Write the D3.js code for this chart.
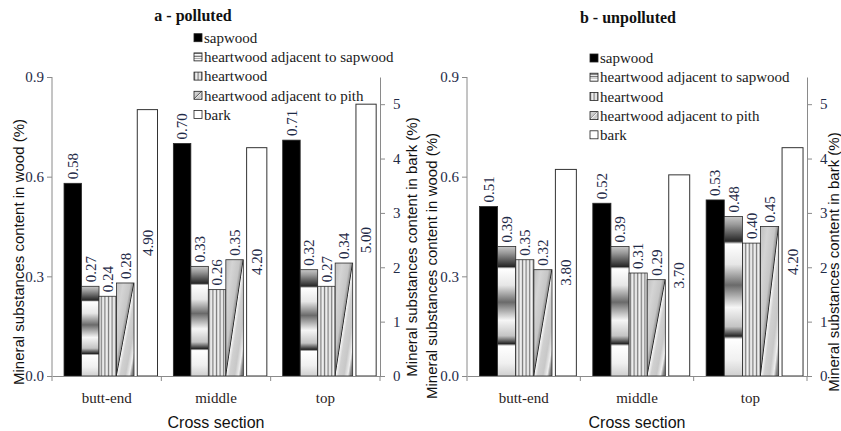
<!DOCTYPE html>
<html><head><meta charset="utf-8">
<script src="https://cdn.jsdelivr.net/npm/d3@7"></script>
<style>body{margin:0;background:#fff} svg{display:block}</style>
</head><body><svg id="c" width="841" height="431"></svg>
<script>
// ---------- data ----------
const categories = ["butt-end", "middle", "top"];
const seriesNames = ["sapwood", "heartwood adjacent to sapwood", "heartwood", "heartwood adjacent to pith", "bark"];
const woodSeries = seriesNames.slice(0, 4);

const pollutedSapwood = [0.58, 0.70, 0.71];
const pollutedHeartSap = [0.27, 0.33, 0.32];
const pollutedHeart = [0.24, 0.26, 0.27];
const pollutedHeartPith = [0.28, 0.35, 0.34];
const pollutedBark = [4.90, 4.20, 5.00];

const unpollutedSapwood = [0.51, 0.52, 0.53];
const unpollutedHeartSap = [0.39, 0.39, 0.48];
const unpollutedHeart = [0.35, 0.31, 0.40];
const unpollutedHeartPith = [0.32, 0.29, 0.45];
const unpollutedBark = [3.80, 3.70, 4.20];

const woodTicks = [0, 0.3, 0.6, 0.9];
const barkTicks = [0, 1, 2, 3, 4, 5];
const woodMax = 0.9, barkMax = 5.5;

const panelTitles = ["a - polluted", "b - unpolluted"];
const xTitle = "Cross section";
const woodTitle = "Mineral substances content in wood (%)";
const barkTitle = "Mineral substances content in bark (%)";

// ---------- setup ----------
const svg = d3.select("#c");
const defs = svg.append("defs");
const serif = "Liberation Serif, Times New Roman, serif";
const sans = "Liberation Sans, Arial, sans-serif";
const numColor = "#1f2b48";

function grad(id, x1, y1, x2, y2, stops, spread) {
  const g = defs.append("linearGradient").attr("id", id)
    .attr("x1", x1).attr("y1", y1).attr("x2", x2).attr("y2", y2);
  if (spread) g.attr("spreadMethod", spread);
  g.selectAll("stop").data(stops).join("stop")
    .attr("offset", d => d[0]).attr("stop-color", d => d[1]);
}
grad("gHsap", 0, 0, 0, 1, [
  [0, "#c8c8c8"], [0.05, "#9a9a9a"], [0.155, "#262626"], [0.172, "#ffffff"],
  [0.3, "#e6e6e6"], [0.43, "#6a6a6a"], [0.57, "#f6f6f6"], [0.69, "#c4c4c4"],
  [0.75, "#262626"], [0.768, "#ffffff"], [0.9, "#f0f0f0"], [1, "#cfcfcf"]
]);
grad("gPith", 0, 0, 1, 1, [
  [0, "#c0c0c0"], [0.2, "#d4d4d4"], [0.4, "#c6c6c6"], [0.47, "#9a9a9a"], [0.495, "#2a2a2a"],
  [0.52, "#f4f4f4"], [0.6, "#d0d0d0"], [0.75, "#c8c8c8"], [0.86, "#eeeeee"], [0.93, "#8a8a8a"], [1, "#6a6a6a"]
]);
const pat = defs.append("pattern").attr("id", "pHeart")
  .attr("patternUnits", "userSpaceOnUse").attr("width", 3.6).attr("height", 4);
pat.append("rect").attr("width", 3.6).attr("height", 4).attr("fill", "#dadada");
pat.append("rect").attr("x", 0).attr("width", 1).attr("height", 4).attr("fill", "#7c7c7c");
pat.append("rect").attr("x", 1.9).attr("width", 0.9).attr("height", 4).attr("fill", "#f6f6f6");

const fills = {
  "sapwood": "#000",
  "heartwood adjacent to sapwood": "url(#gHsap)",
  "heartwood": "url(#pHeart)",
  "heartwood adjacent to pith": "url(#gPith)",
  "bark": "#fff"
};

const panels = [
  { title: panelTitles[0], left: 52, right: 380, titleX: 193, titleY: 21,
    legX: 194, legY: 37.7, wood: [pollutedSapwood, pollutedHeartSap, pollutedHeart, pollutedHeartPith], bark: pollutedBark,
    leftTitleX: 19, leftTitleY: 252, rightTitleX: 412, rightTitleY: 247 },
  { title: panelTitles[1], left: 467, right: 807, titleX: 628, titleY: 23,
    legX: 590, legY: 58, wood: [unpollutedSapwood, unpollutedHeartSap, unpollutedHeart, unpollutedHeartPith], bark: unpollutedBark,
    leftTitleX: 432, leftTitleY: 266, rightTitleX: 834, rightTitleY: 262 }
];

const y0 = 376, yTop = 77;
const yL = d3.scaleLinear().domain([0, woodMax]).range([y0, yTop]);
const yR = d3.scaleLinear().domain([0, barkMax]).range([y0, yTop]);

panels.forEach(p => {
  const g = svg.append("g");
  const x = d3.scaleBand().domain(categories).range([p.left, p.right]).padding(0);
  const bw = x.bandwidth();
  const xw = d3.scaleBand().domain(woodSeries).range([0.11 * bw, 0.75 * bw]).padding(0);

  // wood bars
  woodSeries.forEach((s, si) => {
    const vals = p.wood[si];
    g.append("g").selectAll("rect").data(categories).join("rect")
      .attr("x", (c) => x(c) + xw(s))
      .attr("width", xw.bandwidth())
      .attr("y", (c, i) => yL(vals[i]))
      .attr("height", (c, i) => y0 - yL(vals[i]))
      .attr("fill", fills[s])
      .attr("stroke", "#2a2a2a").attr("stroke-width", 0.8);
    g.append("g").selectAll("text").data(categories).join("text")
      .attr("transform", (c, i) => `translate(${x(c) + xw(s) + xw.bandwidth() / 2},${yL(vals[i]) - 4}) rotate(-90)`)
      .attr("dy", "0.35em")
      .attr("text-anchor", "start")
      .attr("font-family", serif).attr("font-size", 15).attr("fill", numColor)
      .text((c, i) => d3.format(".2f")(vals[i]));
  });

  // bark bars (secondary axis)
  const bx0 = 0.78 * bw, bwid = 0.185 * bw;
  g.append("g").selectAll("rect").data(categories).join("rect")
    .attr("x", c => x(c) + bx0)
    .attr("width", bwid)
    .attr("y", (c, i) => yR(p.bark[i]))
    .attr("height", (c, i) => y0 - yR(p.bark[i]))
    .attr("fill", fills["bark"]).attr("stroke", "#333").attr("stroke-width", 1);
  g.append("g").selectAll("text").data(categories).join("text")
    .attr("transform", (c, i) => `translate(${x(c) + bx0 + bwid / 2},${(yR(p.bark[i]) + y0) / 2}) rotate(-90)`)
    .attr("dy", "0.35em").attr("text-anchor", "middle")
    .attr("font-family", serif).attr("font-size", 15).attr("fill", numColor)
    .text((c, i) => d3.format(".2f")(p.bark[i]));

  // axes
  const axL = g.append("g").attr("transform", `translate(${p.left},0)`)
    .call(d3.axisLeft(yL).tickValues(woodTicks).tickFormat(d3.format(".1f")).tickSize(5).tickSizeOuter(0).tickPadding(3));
  const axR = g.append("g").attr("transform", `translate(${p.right},0)`)
    .call(d3.axisRight(yR).tickValues(barkTicks).tickFormat(d3.format("d")).tickSize(5).tickSizeOuter(0).tickPadding(8));
  const axB = g.append("g").attr("transform", `translate(0,${y0})`)
    .call(d3.axisBottom(x).tickSize(0).tickSizeOuter(0).tickPadding(16));
  [axL, axR, axB].forEach(a => {
    a.select(".domain").attr("stroke", "#8a8a8a");
    a.selectAll(".tick line").attr("stroke", "#8a8a8a");
    a.selectAll("text").attr("font-family", serif).attr("font-size", 15).attr("fill", numColor);
  });
  axL.select(".domain").attr("d", `M0,${yTop}V${y0}`);
  axB.selectAll("text").attr("fill", "#2a2222");
  // boundary ticks on category axis
  const bounds = categories.map(c => x(c)).concat([p.right]);
  g.append("g").selectAll("line").data(bounds).join("line")
    .attr("x1", d => d).attr("x2", d => d).attr("y1", y0).attr("y2", y0 + 5)
    .attr("stroke", "#8a8a8a");

  // titles
  g.append("text").attr("x", p.titleX).attr("y", p.titleY).attr("text-anchor", "middle")
    .attr("font-family", serif).attr("font-weight", "bold").attr("font-size", 16).attr("fill", "#111")
    .text(p.title);
  g.append("text").attr("x", (p.left + p.right) / 2).attr("y", 428).attr("text-anchor", "middle")
    .attr("font-family", sans).attr("font-size", 16).attr("fill", "#111").text(xTitle);
  g.append("text").attr("transform", `translate(${p.leftTitleX},${p.leftTitleY}) rotate(-90)`)
    .attr("dy", "0.35em").attr("text-anchor", "middle")
    .attr("font-family", sans).attr("font-size", 15).attr("fill", "#111").text(woodTitle);
  g.append("text").attr("transform", `translate(${p.rightTitleX},${p.rightTitleY}) rotate(-90)`)
    .attr("dy", "0.35em").attr("text-anchor", "middle")
    .attr("font-family", sans).attr("font-size", 15).attr("fill", "#111").text(barkTitle);

  // legend
  const lg = g.append("g");
  const rows = lg.selectAll("g").data(seriesNames).join("g")
    .attr("transform", (d, i) => `translate(${p.legX},${p.legY + i * 19.2})`);
  rows.append("rect").attr("x", 0).attr("y", -4).attr("width", 8).attr("height", 8)
    .attr("fill", d => fills[d]).attr("stroke", "#222").attr("stroke-width", 0.8);
  rows.append("text").attr("x", 10).attr("dy", "0.35em")
    .attr("font-family", serif).attr("font-size", 15).attr("fill", "#1a1a1a").text(d => d);
});
</script>
</body></html>
